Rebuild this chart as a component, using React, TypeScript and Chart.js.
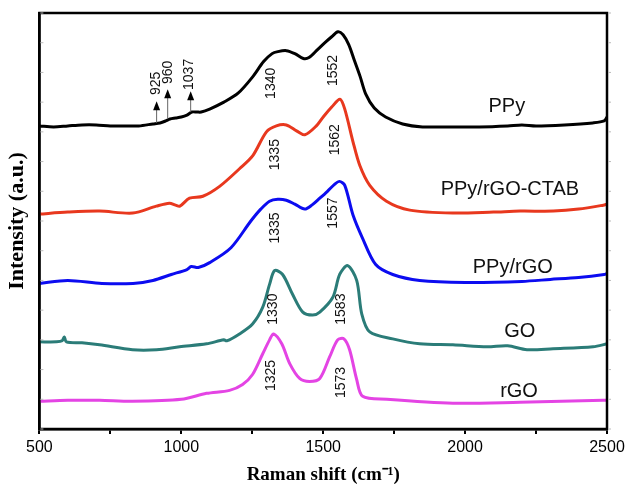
import { useEffect, useRef } from "react";
import { Chart, registerables } from "chart.js";

Chart.register(...registerables);

// Raman spectra (intensity is arbitrary, curves stacked)
const ppyX = [500, 550, 600, 650, 700, 750, 800, 850, 900, 925, 945, 960, 980, 1000, 1020, 1037, 1055, 1070, 1100, 1150, 1200, 1250, 1290, 1320, 1340, 1370, 1400, 1430, 1450, 1480, 1510, 1530, 1552, 1570, 1590, 1610, 1630, 1650, 1680, 1720, 1780, 1850, 1950, 2050, 2150, 2200, 2250, 2350, 2450, 2490, 2500];
const ppyY = [306, 305, 306, 307, 307, 306, 306, 306, 308, 309, 311, 313, 314, 315, 317, 320, 320, 320, 323, 330, 339, 355, 371, 379, 381, 382, 379, 374, 375, 383, 391, 396, 401, 398, 388, 372, 356, 338, 324, 315, 308, 305, 305, 305, 306, 307, 306, 307, 309, 311, 315];

const ctabX = [500, 600, 712, 829, 912, 958, 980, 995, 1029, 1076, 1135, 1206, 1252, 1300, 1335, 1370, 1406, 1435, 1476, 1500, 1530, 1559, 1576, 1605, 1629, 1664, 1723, 1805, 1958, 2100, 2194, 2311, 2400, 2487, 2500];
const ctabY = [217, 219, 220, 218, 225, 228, 226, 225, 233, 235, 245, 263, 276, 300, 306, 307, 301, 297, 306, 315, 325, 333, 323, 290, 266, 246, 230, 221, 218, 219, 220, 220, 222, 226, 227];

const rgoPpyX = [500, 600, 720, 830, 900, 965, 1020, 1035, 1060, 1100, 1175, 1245, 1280, 1311, 1340, 1370, 1400, 1435, 1460, 1488, 1515, 1540, 1557, 1576, 1605, 1638, 1685, 1745, 1840, 2000, 2200, 2300, 2400, 2490, 2500];
const rgoPpyY = [147, 150, 147, 147, 150, 156, 161, 164, 163, 168, 183, 210, 222, 230, 232, 231, 227, 222, 226, 233, 240, 247, 250, 246, 216, 193, 166, 156, 150, 148, 149, 151, 153, 156, 157];

const goX = [500, 560, 580, 588, 595, 650, 712, 828, 913, 994, 1089, 1150, 1160, 1205, 1251, 1287, 1311, 1329, 1357, 1392, 1428, 1463, 1488, 1534, 1558, 1586, 1618, 1636, 1664, 1745, 1840, 1957, 2077, 2150, 2218, 2310, 2451, 2500];
const goY = [88, 88, 89, 93, 88, 87, 85, 80, 80, 83, 86, 90, 89, 96, 106, 123, 146, 160, 156, 136, 118, 115, 118, 133, 156, 165, 150, 116, 98, 91, 86, 85, 83, 84, 80, 81, 83, 86];

const rgoX = [500, 600, 712, 828, 1000, 1089, 1170, 1216, 1251, 1287, 1311, 1325, 1354, 1382, 1417, 1452, 1488, 1523, 1551, 1573, 1593, 1618, 1639, 1724, 1957, 2193, 2486, 2500];
const rgoY = [28, 29, 29, 28, 30, 36, 39, 45, 55, 76, 90, 96, 86, 66, 51, 48, 51, 73, 90, 91, 80, 50, 33, 30, 26, 27, 29, 29];

const seriesNames = ["PPy", "PPy/rGO-CTAB", "PPy/rGO", "GO", "rGO"];
const seriesColors = ["#000000", "#e8381e", "#0c0cf0", "#2b7c78", "#e444e4"];
const nameX = [2147, 2158, 2168, 2193, 2190];
const nameY = [326, 242, 163, 98, 38];

// rotated peak labels
const peakText = ["1340", "1552", "1335", "1562", "1335", "1557", "1330", "1583", "1325", "1573"];
const peakX = [1318, 1534, 1332, 1541, 1332, 1534, 1325, 1562, 1315, 1562];
const peakY = [349, 362, 277, 292, 203, 218, 121, 121, 54, 47];

// small arrows on the PPy curve
const arrowText = ["925", "960", "1037"];
const arrowX = [913, 952, 1033];
const arrowBase = [309, 313, 320];
const arrowTip = [331, 343, 341];
const arrowTextX = [913, 952, 1026];
const arrowTextY = [349, 360, 358];

const sans = '"Liberation Sans", Arial, sans-serif';
const serif = '"Liberation Serif", "Times New Roman", serif';

const toPoints = (xs: number[], ys: number[]) => xs.map((x, i) => ({ x, y: ys[i] }));

const annotations = {
  id: "annotations",
  afterDraw(chart: any) {
    const { ctx, chartArea, scales } = chart;
    const xs = scales.x;
    const ys = scales.y;
    ctx.save();

    // frame
    ctx.strokeStyle = "#000";
    ctx.lineWidth = 2.5;
    ctx.strokeRect(chartArea.left, chartArea.top, chartArea.right - chartArea.left, chartArea.bottom - chartArea.top);

    // faint y ticks
    ctx.strokeStyle = "#bbb";
    ctx.lineWidth = 1;
    ys.ticks.forEach((t: any) => {
      const py = ys.getPixelForValue(t.value);
      ctx.beginPath();
      ctx.moveTo(chartArea.right + 1, py);
      ctx.lineTo(chartArea.right + 4, py);
      ctx.moveTo(chartArea.left + 1, py);
      ctx.lineTo(chartArea.left + 4, py);
      ctx.stroke();
    });

    const rotated = (text: string, x: number, y: number) => {
      ctx.save();
      ctx.translate(xs.getPixelForValue(x), ys.getPixelForValue(y));
      ctx.rotate(-Math.PI / 2);
      ctx.fillText(text, 0, 0);
      ctx.restore();
    };

    ctx.fillStyle = "#111";
    ctx.font = `14px ${sans}`;
    ctx.textAlign = "center";
    ctx.textBaseline = "middle";
    peakText.forEach((t, i) => rotated(t, peakX[i], peakY[i]));
    arrowText.forEach((t, i) => rotated(t, arrowTextX[i], arrowTextY[i]));

    // arrows
    arrowX.forEach((ax, i) => {
      const px = xs.getPixelForValue(ax);
      const base = ys.getPixelForValue(arrowBase[i]);
      const tip = ys.getPixelForValue(arrowTip[i]);
      ctx.strokeStyle = "#666";
      ctx.lineWidth = 1;
      ctx.beginPath();
      ctx.moveTo(px, base);
      ctx.lineTo(px, tip + 6);
      ctx.stroke();
      ctx.fillStyle = "#000";
      ctx.beginPath();
      ctx.moveTo(px, tip);
      ctx.lineTo(px - 3.5, tip + 9);
      ctx.lineTo(px + 3.5, tip + 9);
      ctx.closePath();
      ctx.fill();
    });

    // series names
    ctx.fillStyle = "#111";
    ctx.font = `20px ${sans}`;
    seriesNames.forEach((n, i) => {
      ctx.fillText(n, xs.getPixelForValue(nameX[i]), ys.getPixelForValue(nameY[i]));
    });

    ctx.restore();
  },
};

export default function App() {
  const canvasRef = useRef<HTMLCanvasElement>(null);
  const chartRef = useRef<Chart | null>(null);

  useEffect(() => {
    document.body.style.margin = "0";
    if (!canvasRef.current) return;
    chartRef.current?.destroy();

    const series = [
      toPoints(ppyX, ppyY),
      toPoints(ctabX, ctabY),
      toPoints(rgoPpyX, rgoPpyY),
      toPoints(goX, goY),
      toPoints(rgoX, rgoY),
    ];

    chartRef.current = new Chart(canvasRef.current, {
      type: "line",
      data: {
        datasets: series.map((data, i) => ({
          label: seriesNames[i],
          data,
          borderColor: seriesColors[i],
          borderWidth: 3,
          pointRadius: 0,
          tension: 0.3,
          fill: false,
        })),
      },
      options: {
        animation: false,
        responsive: true,
        maintainAspectRatio: false,
        layout: { padding: { left: 4, right: 33, top: 13, bottom: 8 } },
        scales: {
          x: {
            type: "linear",
            min: 500,
            max: 2500,
            grid: { display: true, drawOnChartArea: false, drawTicks: true, tickLength: 5, color: "#000", lineWidth: 2 },
            border: { display: true, color: "#000", width: 2.5 },
            ticks: {
              stepSize: 250,
              autoSkip: false,
              maxRotation: 0,
              padding: 4,
              color: "#000",
              font: { family: sans, size: 16 },
              callback: (v: any) => (Number(v) % 500 === 0 ? String(v) : ""),
            },
            title: {
              display: true,
              text: "Raman shift (cm⁻¹)",
              color: "#000",
              font: { family: serif, size: 19, weight: "bold" },
              padding: { top: 2, bottom: 0 },
            },
          },
          y: {
            min: 0,
            max: 420,
            ticks: { display: false, stepSize: 30 },
            grid: { display: false, drawTicks: false },
            border: { display: true, color: "#000", width: 2.5 },
            title: {
              display: true,
              text: "Intensity (a.u.)",
              color: "#000",
              font: { family: serif, size: 22, weight: "bold" },
              padding: { top: 0, bottom: 9 },
            },
          },
        },
        plugins: {
          legend: { display: false },
          tooltip: { enabled: false },
        },
      },
      plugins: [annotations],
    });

    return () => { chartRef.current?.destroy(); };
  }, []);

  return (
    <div style={{ width: "640px", height: "494px", background: "#fff" }}>
      <canvas ref={canvasRef} />
    </div>
  );
}
